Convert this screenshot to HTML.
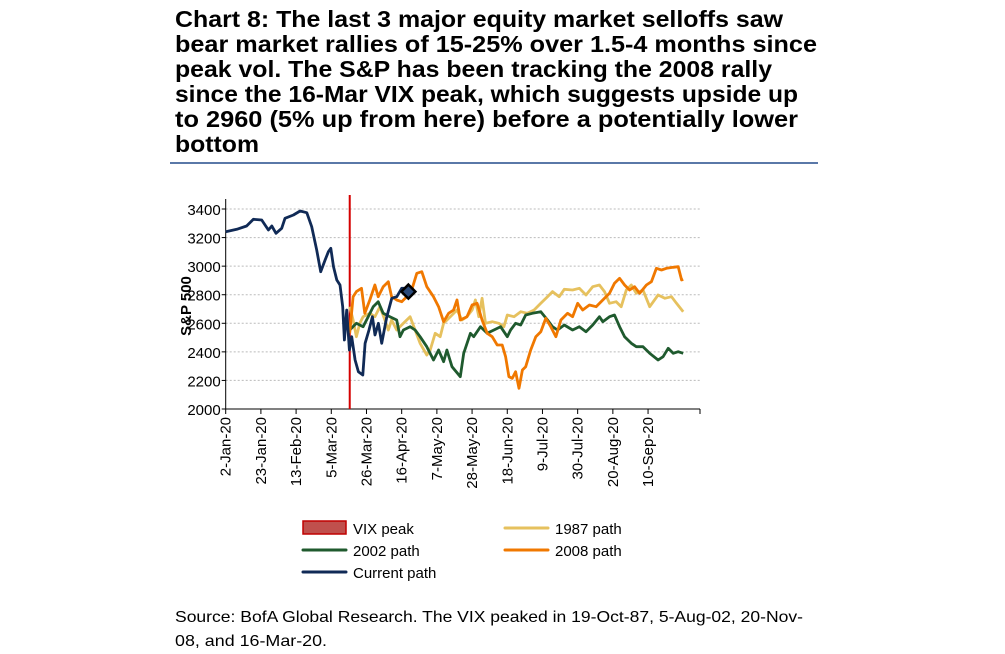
<!DOCTYPE html>
<html><head><meta charset="utf-8">
<style>
body{margin:0;background:#fff;width:1005px;height:654px;overflow:hidden;font-family:"Liberation Sans",sans-serif;}
#rule{position:absolute;left:170px;top:162px;width:648px;height:2px;background:#5a78a8;}
svg{position:absolute;left:0;top:0;}
</style></head><body>
<div id="rule"></div>
<svg id="chart" width="1005" height="654">
<g font-family="Liberation Sans, sans-serif" font-size="23" font-weight="bold" fill="#000">
<text x="175" y="27" textLength="608" lengthAdjust="spacingAndGlyphs">Chart 8: The last 3 major equity market selloffs saw</text>
<text x="175" y="52" textLength="642" lengthAdjust="spacingAndGlyphs">bear market rallies of 15-25% over 1.5-4 months since</text>
<text x="175" y="77" textLength="597" lengthAdjust="spacingAndGlyphs">peak vol. The S&amp;P has been tracking the 2008 rally</text>
<text x="175" y="102" textLength="623" lengthAdjust="spacingAndGlyphs">since the 16-Mar VIX peak, which suggests upside up</text>
<text x="175" y="127" textLength="623" lengthAdjust="spacingAndGlyphs">to 2960 (5% up from here) before a potentially lower</text>
<text x="175" y="152" textLength="84" lengthAdjust="spacingAndGlyphs">bottom</text>
</g>
<g font-family="Liberation Sans, sans-serif" font-size="16" fill="#000">
<text x="175" y="622" textLength="628" lengthAdjust="spacingAndGlyphs">Source: BofA Global Research. The VIX peaked in 19-Oct-87, 5-Aug-02, 20-Nov-</text>
<text x="175" y="646" textLength="152" lengthAdjust="spacingAndGlyphs">08, and 16-Mar-20.</text>
</g>
</svg>
<script>
const yTicks=[2000,2200,2400,2600,2800,3000,3200,3400];
const xTickLabels=["2-Jan-20","23-Jan-20","13-Feb-20","5-Mar-20","26-Mar-20","16-Apr-20","7-May-20","28-May-20","18-Jun-20","9-Jul-20","30-Jul-20","20-Aug-20","10-Sep-20"];
const xTickDays=[0,21,42,63,84,105,126,147,168,189,210,231,252];
const vixPeakDay=74;
const currentDays=[0,6.6,12.5,16.5,21.5,25.5,27.5,30,33.4,35.4,40.4,44.4,48.4,51.3,54.3,56.7,59.3,61.3,62.7,64.3,66.3,68.2,69.8,70.8,72.2,73.8,75.2,77.2,79.2,81.8,83.2,85.5,87.5,89.1,91.1,93.1,96.1,99.1,102.1,105,107];
const currentVals=[3241,3258,3281,3328,3323,3253,3281,3230,3265,3335,3358,3386,3374,3276,3113,2961,3043,3101,3125,2996,2903,2868,2716,2483,2693,2413,2506,2343,2261,2238,2460,2553,2646,2518,2600,2460,2646,2775,2786,2845,2845];
const diamondDay=109, diamondVal=2822;
const p1987Days=[74,76,78,80,82,86,89,92,95,97,99,102,106,110,113,116,120,122,125,128,130,134,138,141,144,147,149,151,153,155,159,163,166,168,172,176,180,184,188,192,195,199,202,207,211,215,219,223,226,229,233,236,239,242,245,249,253,258,262,266,269,273];
const p1987Vals=[2716,2623,2506,2600,2646,2670,2646,2716,2623,2553,2623,2553,2600,2646,2553,2460,2378,2413,2530,2506,2600,2646,2693,2623,2646,2693,2763,2646,2775,2600,2611,2600,2576,2658,2646,2681,2670,2693,2740,2786,2822,2786,2838,2833,2845,2798,2856,2868,2822,2740,2751,2716,2833,2868,2810,2833,2716,2798,2775,2786,2740,2681];
const p2002Days=[74,78,82,85,88,91,94,98,102,104,106,110,113,116,120,124,127,130,132,135,140,142,146,148,152,156,160,164,168,170,173,176,179,183,188,192,195,198,202,207,211,215,219,223,225,229,232,235,238,242,245,249,253,258,261,264,267,270,273];
const p2002Vals=[2553,2600,2576,2646,2716,2751,2670,2646,2623,2506,2553,2576,2553,2506,2436,2343,2413,2331,2413,2296,2226,2390,2530,2506,2576,2530,2553,2576,2506,2553,2600,2588,2658,2670,2681,2623,2576,2553,2588,2553,2576,2541,2588,2646,2611,2646,2658,2576,2506,2460,2436,2436,2390,2343,2366,2425,2390,2401,2390];
const p2008Days=[74,76,78,81,83,86,89,91,94,97,99,102,105,108,111,114,117,120,124,127,130,133,136,138,140,144,147,150,153,156,159,162,165,167,169,171,173,175,177,179,182,185,188,191,194,197,200,204,207,210,213,217,221,225,229,232,235,238,241,244,247,251,254,257,260,263,267,270,272,273];
const p2008Vals=[2530,2786,2822,2845,2670,2763,2868,2786,2856,2891,2786,2763,2751,2786,2833,2950,2961,2856,2786,2716,2611,2670,2693,2763,2623,2646,2728,2740,2623,2530,2506,2448,2448,2366,2226,2215,2261,2145,2273,2296,2413,2506,2541,2635,2576,2506,2623,2670,2646,2740,2693,2728,2716,2763,2810,2880,2915,2868,2833,2856,2810,2868,2891,2985,2973,2985,2992,2996,2903,2908];

const NS="http://www.w3.org/2000/svg";
const svg=document.getElementById('chart');
const X0=225.7, PXD=1.676, XR=700, Y0=409, YPV=200/28.57;
function xs(d){return X0+d*PXD;}
function ys(v){return Y0-(v-2000)/YPV;}
function mk(tag,attrs,parent){const e=document.createElementNS(NS,tag);for(const k in attrs)e.setAttribute(k,attrs[k]);(parent||svg).appendChild(e);return e;}

yTicks.forEach(v=>{
  if(v>2000){const g=mk('line',{x1:X0,x2:XR,y1:ys(v),y2:ys(v),stroke:'#bbb','stroke-width':1,'stroke-dasharray':'2,2'});
  
  }
  const t=mk('text',{x:X0-5,y:ys(v)+6,'text-anchor':'end','font-size':'15','font-family':'Liberation Sans, sans-serif',fill:'#000'});
  t.textContent=v;
  
  
  mk('line',{x1:X0-4,x2:X0,y1:ys(v),y2:ys(v),stroke:'#000'});
});
const ya=mk('line',{x1:X0,x2:X0,y1:199,y2:Y0,stroke:'#000','stroke-width':1});


const xa=mk('line',{x1:X0,x2:XR,y1:Y0,y2:Y0,stroke:'#000','stroke-width':1});


xTickDays.forEach((d,i)=>{
  mk('line',{x1:xs(d),x2:xs(d),y1:Y0,y2:Y0+5,stroke:'#000'});
  const t=mk('text',{x:0,y:0,'text-anchor':'end','font-size':'15','font-family':'Liberation Sans, sans-serif',fill:'#000',transform:`translate(${xs(d)+5},${Y0+8}) rotate(-90)`});
  t.textContent=xTickLabels[i];
  
  
});
mk('line',{x1:XR,x2:XR,y1:Y0,y2:Y0+5,stroke:'#000'});
const yl=mk('text',{x:0,y:0,'text-anchor':'middle','font-size':'15','font-weight':'bold','font-family':'Liberation Sans, sans-serif',fill:'#000',transform:`translate(191,306) rotate(-90)`});
yl.textContent='S&P 500';



const vix=mk('line',{x1:xs(vixPeakDay),x2:xs(vixPeakDay),y1:195,y2:Y0,stroke:'#d40000','stroke-width':2});



function series(days,vals,color,name){
  const p=mk('polyline',{points:days.map((d,i)=>xs(d).toFixed(1)+','+ys(vals[i]).toFixed(1)).join(' '),fill:'none',stroke:color,'stroke-width':2.8,'stroke-linejoin':'round'});
  
  
}
series(p1987Days,p1987Vals,'#e6c15e','series-1987-path');
series(p2002Days,p2002Vals,'#1f5a2e','series-2002-path');
series(p2008Days,p2008Vals,'#f07800','series-2008-path');
series(currentDays,currentVals,'#102a56','series-current-path');
const dx=xs(diamondDay), dy=ys(diamondVal);
const dm=mk('polygon',{points:`${dx},${dy-7} ${dx+7},${dy} ${dx},${dy+7} ${dx-7},${dy}`,fill:'#2a4a7a',stroke:'#000','stroke-width':2.5});



const legend=[["VIX peak","rect",303,528],["1987 path","#e6c15e",505,528],["2002 path","#1f5a2e",303,550],["2008 path","#f07800",505,550],["Current path","#102a56",303,572]];
legend.forEach(l=>{
  const g=mk('g',{});
  
  
  if(l[1]==='rect') mk('rect',{x:l[2],y:l[3]-7,width:43,height:13,fill:'#c0504d',stroke:'#c00000','stroke-width':1.5},g);
  else mk('line',{x1:l[2],x2:l[2]+43,y1:l[3],y2:l[3],stroke:l[1],'stroke-width':3,'stroke-linecap':'round'},g);
  const t=mk('text',{x:l[2]+50,y:l[3]+6,'font-size':'15','font-family':'Liberation Sans, sans-serif',fill:'#000'},g);
  t.textContent=l[0];
});
</script>
</body></html>
